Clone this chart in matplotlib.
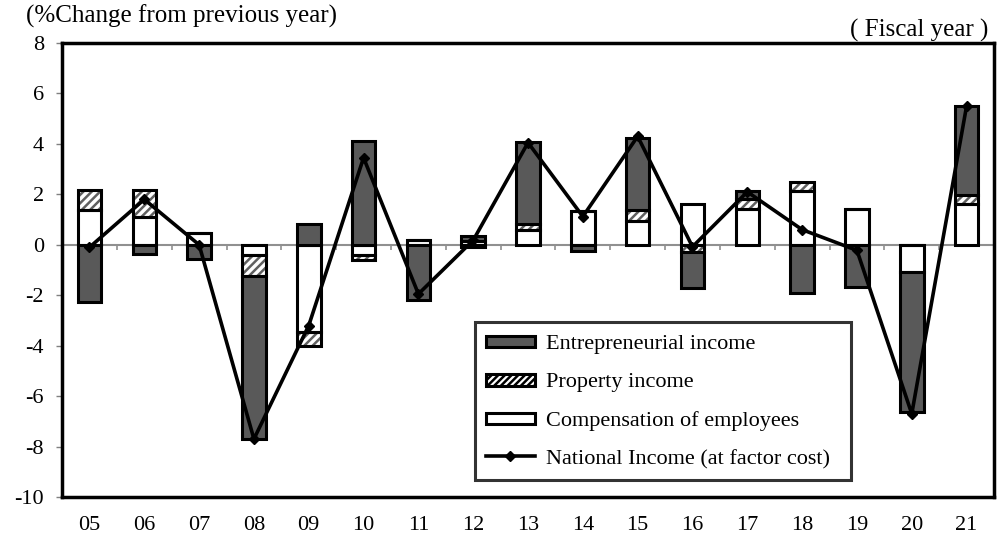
import numpy as np
import matplotlib.pyplot as plt
from matplotlib.patches import Patch
from matplotlib.lines import Line2D
from matplotlib.legend_handler import HandlerPatch

plt.rcParams['font.family'] = ['Liberation Serif', 'DejaVu Serif']
plt.rcParams['hatch.linewidth'] = 1.8

# fiscal years and contributions (percentage points)
years = ['05', '06', '07', '08', '09', '10', '11', '12', '13',
         '14', '15', '16', '17', '18', '19', '20', '21']
compensation = [1.36, 1.10, 0.45, -0.42, -3.45, -0.40, 0.20, 0.15, 0.57,
                1.33, 0.93, 1.60, 1.40, 2.13, 1.40, -1.09, 1.60]
property_inc = [0.80, 1.06, 0.00, -0.83, -0.55, -0.22, 0.00, -0.10, 0.26,
                0.00, 0.46, -0.28, 0.40, 0.35, 0.00, 0.00, 0.36]
entrepreneurial = [-2.25, -0.36, -0.55, -6.45, 0.83, 4.10, -2.20, 0.20, 3.24,
                   -0.25, 2.85, -1.43, 0.33, -1.93, -1.67, -5.55, 3.54]
national_income = [-0.10, 1.80, 0.00, -7.70, -3.20, 3.45, -1.95, 0.18, 4.05,
                   1.12, 4.30, -0.08, 2.10, 0.60, -0.22, -6.70, 5.50]

DARK = '#595959'
EDGE_W = 2.2
BAR_W = 0.43

fig = plt.figure(figsize=(10.01, 5.41), dpi=100)
ax = fig.add_axes([0.062, 0.0813, 0.931, 0.8392])

x = np.arange(len(years))
pos_base = np.zeros(len(years))
neg_base = np.zeros(len(years))

series = [(compensation, 'white', None),
          (property_inc, 'white', '////'),
          (entrepreneurial, DARK, None)]

for vals, face, hatch in series:
    vals = np.array(vals)
    base = np.where(vals >= 0, pos_base, neg_base)
    if hatch:
        ax.bar(x, vals, BAR_W, bottom=base, color='white', edgecolor='#606060',
               hatch=hatch, linewidth=0, zorder=2)
        ax.bar(x, vals, BAR_W, bottom=base, facecolor='none', edgecolor='black',
               linewidth=EDGE_W, zorder=3)
    else:
        ax.bar(x, vals, BAR_W, bottom=base, color=face, edgecolor='black',
               linewidth=EDGE_W, zorder=3)
    pos_base = pos_base + np.where(vals >= 0, vals, 0)
    neg_base = neg_base + np.where(vals < 0, vals, 0)

# zero line with category ticks
ax.axhline(0, color='#909090', linewidth=1.5, zorder=1)
ax.vlines(x[:-1] + 0.5, -0.2, 0, color='#909090', linewidth=1.2, zorder=1)

ax.plot(x, national_income, color='black', linewidth=2.6, marker='D',
        markersize=5.5, zorder=5)

ax.set_xlim(-0.5, len(years) - 0.5)
ax.set_ylim(-10, 8)
ax.set_yticks(np.arange(-10, 9, 2))
ax.set_yticklabels([str(v) for v in range(-10, 9, 2)])
ax.set_xticks(x)
ax.set_xticklabels(years)
ax.tick_params(axis='x', length=0, pad=14, labelsize=16)
ax.tick_params(axis='y', length=4, width=1, color='#808080', pad=9, labelsize=16)
for s in ax.spines.values():
    s.set_linewidth(2.5)
    s.set_color('black')

fig.text(0.026, 0.969, '(%Change from previous year)', fontsize=18, ha='left', va='center')
fig.text(0.987, 0.944, '( Fiscal year )', fontsize=18, ha='right', va='center')


class WidePatch(HandlerPatch):
    def create_artists(self, legend, orig_handle, xdescent, ydescent, width, height, fontsize, trans):
        p = plt.Rectangle((-xdescent, -ydescent + height * 0.12), width, height * 0.72,
                          facecolor=orig_handle.get_facecolor(), edgecolor='black',
                          hatch=orig_handle.get_hatch(), linewidth=2.2, transform=trans)
        return [p]


handles = [Patch(facecolor=DARK, edgecolor='black', label='Entrepreneurial income'),
           Patch(facecolor='white', edgecolor='black', hatch='/////', label='Property income'),
           Patch(facecolor='white', edgecolor='black', label='Compensation of employees'),
           Line2D([0], [0], color='black', linewidth=2.6, marker='D', markersize=5,
                  label='National Income (at factor cost)')]
leg = ax.legend(handles=handles, loc='lower left', bbox_to_anchor=(0.443, 0.037, 0.404, 0.348),
                mode='expand', fontsize=16, frameon=True, fancybox=False, handlelength=2.2,
                handletextpad=0.5, labelspacing=0.8, borderpad=0.5, borderaxespad=0,
                handler_map={Patch: WidePatch()})
leg.get_frame().set_edgecolor('black')
leg.get_frame().set_linewidth(2.2)
leg.set_zorder(10)

fig.savefig('out.png', dpi=100)
